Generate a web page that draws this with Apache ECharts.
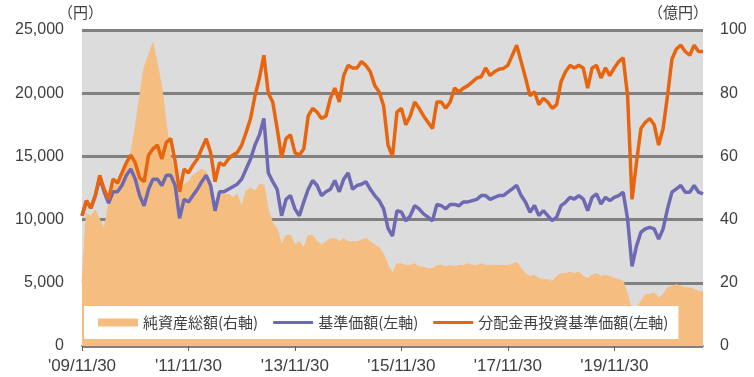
<!DOCTYPE html>
<html>
<head>
<meta charset="utf-8">
<script src="https://cdn.jsdelivr.net/npm/echarts@6/dist/echarts.min.js"></script>
<style>
  html, body { margin: 0; padding: 0; background: #fff; }
  #chart { width: 754px; height: 377px; }
</style>
</head>
<body>
<div id="chart"></div>
<script>
// 月末ごとのカテゴリ（2009/11 〜 2021/07）
const months = [];
for (let y = 2009, m = 11; y < 2021 || (y === 2021 && m <= 7); m++) {
    if (m > 12) { m = 1; y++; }
    months.push(y + '/' + (m < 10 ? '0' + m : m));
}
const tickLabels = ["'09/11/30", "'11/11/30", "'13/11/30", "'15/11/30", "'17/11/30", "'19/11/30"];

// 純資産総額（億円・右軸）
const netAssets = [
    20, 42, 41, 43, 40, 37, 45, 50, 52, 55, 58, 61, 69, 79, 88, 92, 96, 89, 82, 70,
    60, 55, 50, 51, 52, 54, 55, 56, 55, 52, 45, 48, 48, 48, 47, 48, 44, 49, 50, 49,
    51, 51, 43, 39, 37, 32, 35,
    35, 32, 33, 31, 35, 35, 33, 32, 33, 34, 34, 33, 34, 33, 33, 33, 33.5, 34, 33, 32,
    31, 29, 25.5, 23, 26, 26, 25.5, 25.5, 26, 25, 25, 24.5, 24.5, 25.5,
    25.5, 25, 25.5, 25, 25.5, 25.5, 26, 25.5, 25.5, 26, 25.5, 25.5, 25.5, 25.5,
    25.5, 25.5, 25.9, 26.4, 24.5, 22.9, 21.9, 22.4, 21.4, 21, 21, 20.4, 22, 22.9, 22.9,
    23.4, 22.9, 23.4, 22, 21.4, 22.4, 22.9, 22, 22.4, 22, 21.4, 21, 20.4, 16.3, 11,
    12, 14, 16.3, 16.3, 16.8, 15.2, 16.3, 18.4, 18.9, 19.4, 18.9, 18.4, 18.4, 17.9, 17.3, 17.3
];

// 基準価額（円・左軸）
const nav = [
    10300, 11500, 10900, 11900, 13300, 12200, 11300, 12200, 12200, 12700, 13500, 14000,
    13200, 11900, 11100, 12400, 13200, 13200, 12700, 13500, 13500, 12700, 10100, 11600,
    11400, 11900, 12400, 13000, 13500, 12700, 10700, 12200, 12200, 12400, 12600, 12800,
    13200, 14000, 14800, 15900, 16700, 18000, 13700, 13000, 12400, 10300, 11600,
    11900, 10850, 10300, 11400, 12400, 13100, 12700, 11900, 12200, 12400, 13100, 12200,
    13200, 13700, 12400, 12700, 12800, 13000, 12400, 11900, 11500, 10850, 9300, 8700,
    10700, 10600, 9900, 10300, 11100, 10850, 10450, 10200, 9900, 11200, 11100, 10850,
    11200, 11200, 11100, 11400, 11400, 11500, 11600, 11900, 11900, 11600, 11760, 11900,
    11900, 12170, 12430, 12700, 11900, 11370, 10580, 11110, 10320, 10710, 10320, 9920,
    10190, 11110, 11370, 11760, 11630, 11900, 11630, 10710, 11760, 12030, 11240, 11760,
    11500, 11760, 11900, 12170, 10050, 6300, 7900, 9000, 9260, 9390, 9260, 8460,
    9260, 10850, 12170, 12430, 12700, 12170, 12170, 12700, 12170, 12030
];

// 分配金再投資基準価額（円・左軸）
const navReinvested = [
    10300, 11500, 10900, 11900, 13500, 12400, 11600, 13200, 12900, 13700, 14500, 15100,
    14500, 13300, 13000, 15100, 15600, 15900, 14800, 16100, 16400, 14600, 12200, 14000,
    13700, 14300, 14800, 15600, 16400, 15300, 13000, 14500, 14300, 14800, 15100, 15300,
    15900, 16900, 18000, 19800, 21200, 23000, 20000, 19300, 17200, 14900, 16400,
    16700, 15300, 15100, 15600, 18200, 18800, 18500, 18000, 18200, 19600, 20400, 19300,
    21400, 22200, 22000, 22000, 22500, 22200, 21700, 20600, 20100, 19000, 15900, 15000,
    18500, 18800, 17500, 18200, 19300, 18800, 18200, 17700, 17200, 19300, 19300, 18800,
    19300, 20400, 20100, 20400, 20600, 20900, 21200, 21300, 22000, 21400, 21700, 21900,
    21960, 22200, 23000, 23800, 22500, 21200, 19800, 20100, 19100, 19600, 19300, 18800,
    19100, 20900, 21700, 22200, 22000, 22200, 22000, 20400, 22000, 22200, 21200, 22000,
    21400, 22000, 22500, 22800, 19800, 11600, 14500, 17200, 17700, 18000, 17500, 15900,
    17200, 19800, 22700, 23500, 23800, 23300, 23000, 23800, 23300, 23300
];

const seriesNames = ['純資産総額(右軸)', '基準価額(左軸)', '分配金再投資基準価額(左軸)'];
const colors = ['#F5BE80', '#6D6AB3', '#E8650F'];

const labelFont = 'Liberation Sans, Arial, sans-serif';
const jpFont = 'Noto Sans CJK JP, sans-serif';
// 細い線の凡例アイコン（枠は 40x8 のまま）
const thinLine = 'path://M0,0M40,8M0,2.6h40v2.8h-40z';

let myChart = echarts.init(document.getElementById('chart'));

option = {
    animation: false,
    backgroundColor: '#fff',
    grid: {
        left: 82, right: 51, top: 30, bottom: 31,
        show: true, backgroundColor: '#DCDCDC', borderWidth: 0
    },
    graphic: [
        { type: 'text', left: 58, top: 5, style: { text: '（円）', fontSize: 15, fill: '#404040', fontFamily: jpFont } },
        { type: 'text', left: 648, top: 5, style: { text: '（億円）', fontSize: 15, fill: '#404040', fontFamily: jpFont } }
    ],
    legend: {
        left: 84, bottom: 38,
        backgroundColor: '#fff',
        padding: [9, 10, 9, 14],
        itemGap: 15,
        itemWidth: 40,
        itemHeight: 8,
        textStyle: { fontSize: 15, color: '#404040', fontFamily: jpFont },
        data: [
            { name: seriesNames[0], icon: 'rect' },
            { name: seriesNames[1], icon: thinLine },
            { name: seriesNames[2], icon: thinLine }
        ]
    },
    xAxis: {
        type: 'category',
        data: months,
        boundaryGap: false,
        axisLine: { lineStyle: { color: '#808080', width: 2 } },
        axisTick: {
            show: true, alignWithLabel: true, length: 5,
            interval: (i) => i % 24 === 0,
            lineStyle: { color: '#606060', width: 1 }
        },
        axisLabel: {
            interval: (i) => i % 24 === 0,
            formatter: (v, i) => tickLabels[i / 24] || '',
            margin: 12,
            fontSize: 17,
            color: '#404040',
            fontFamily: labelFont
        },
        splitLine: { show: false }
    },
    yAxis: [
        {
            type: 'value',
            min: 0, max: 25000, interval: 5000,
            axisLine: { show: false },
            axisTick: { show: false },
            axisLabel: {
                margin: 18, fontSize: 16, color: '#404040', fontFamily: labelFont,
                formatter: (v) => v.toLocaleString('en-US')
            },
            splitLine: { lineStyle: { color: '#808080', width: 3 } }
        },
        {
            type: 'value',
            min: 0, max: 100, interval: 20,
            axisLine: { show: false },
            axisTick: { show: false },
            axisLabel: { margin: 17, fontSize: 16, color: '#404040', fontFamily: labelFont },
            splitLine: { show: false }
        }
    ],
    series: [
        {
            name: seriesNames[0],
            type: 'line',
            yAxisIndex: 1,
            data: netAssets,
            symbol: 'none',
            itemStyle: { color: colors[0] },
            lineStyle: { width: 1, color: colors[0] },
            areaStyle: { color: colors[0], opacity: 1 }
        },
        {
            name: seriesNames[1],
            type: 'line',
            yAxisIndex: 0,
            data: nav,
            symbol: 'none',
            itemStyle: { color: colors[1] },
            lineStyle: { width: 3.5, color: colors[1] }
        },
        {
            name: seriesNames[2],
            type: 'line',
            yAxisIndex: 0,
            data: navReinvested,
            symbol: 'none',
            itemStyle: { color: colors[2] },
            lineStyle: { width: 3.5, color: colors[2] }
        }
    ]
};

myChart.setOption(option);
</script>
</body>
</html>
